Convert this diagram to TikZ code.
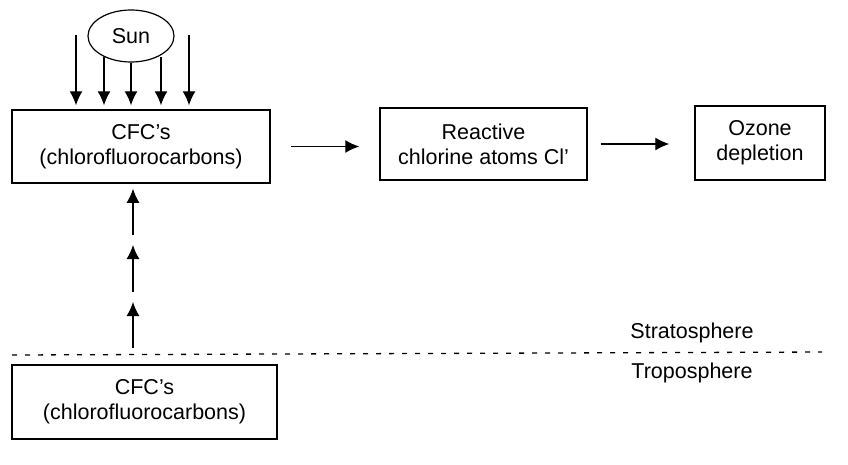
\documentclass[tikz,border=0pt]{standalone}
\usepackage{fontspec}
\setmainfont{Liberation Sans}
\usetikzlibrary{shapes.geometric,arrows.meta}
\begin{document}
\begin{tikzpicture}[x=1pt,y=-1pt,
  txt/.style={font=\fontsize{21.5}{25}\selectfont},
  box/.style={draw, line width=1.5pt, inner sep=0pt, align=center, txt},
  arr/.style={line width=1.2pt, -{Latex[length=14pt,width=13pt]}}]
\useasboundingbox (0,0) rectangle (848,464);
% nodes
\node[draw, ellipse, line width=1.2pt, minimum width=86pt, minimum height=52pt, inner sep=0pt, txt] (sun) at (131,36) {Sun};
\node[box, minimum width=258pt, minimum height=73pt] (top) at (141,146.5) {CFC's\\(chlorofluorocarbons)};
\node[box, minimum width=207pt, minimum height=72pt] (react) at (483.5,144) {Reactive\\chlorine atoms Cl'};
\node[box, minimum width=130pt, minimum height=74pt] (ozone) at (760,143) {Ozone\\depletion};
\node[box, minimum width=265pt, minimum height=74pt] (bot) at (144.5,402) {CFC's\\(chlorofluorocarbons)};
\node[txt] (strat) at (692,333) {Stratosphere};
\node[txt] (tropo) at (692,373) {Troposphere};
% sun rays
\coordinate (r1) at (76,35);
\coordinate (r5) at (189,35);
\coordinate (r2) at (104,57);
\coordinate (r4) at (161,57);
\draw[arr, shorten >=4pt] (r1) -- (r1 |- top.north);
\draw[arr, shorten >=4pt] (r2) -- (r2 |- top.north);
\draw[arr, shorten >=4pt] (sun.south) -- (sun.south |- top.north);
\draw[arr, shorten >=4pt] (r4) -- (r4 |- top.north);
\draw[arr, shorten >=4pt] (r5) -- (r5 |- top.north);
% horizontal flow
\draw[arr, shorten <=20pt, shorten >=20pt] (top.east) -- (top.east -| react.west);
\draw[arr, shorten <=13pt, shorten >=25pt] (react.east) -- (react.east -| ozone.west);
% upward arrows
\coordinate (u1) at (133,348);
\coordinate (u2) at (133,302);
\coordinate (u3) at (133,292);
\coordinate (u4) at (133,245);
\coordinate (u5) at (133,235);
\draw[arr] (u1) -- (u2);
\draw[arr] (u3) -- (u4);
\draw[arr, shorten >=5pt] (u5) -- (u5 |- top.south);
% boundary
\coordinate (d1) at (12,355);
\coordinate (d2) at (822,352);
\draw[line width=1.3pt, dash pattern=on 5pt off 8pt] (d1) -- (d2);
\end{tikzpicture}
\end{document}
